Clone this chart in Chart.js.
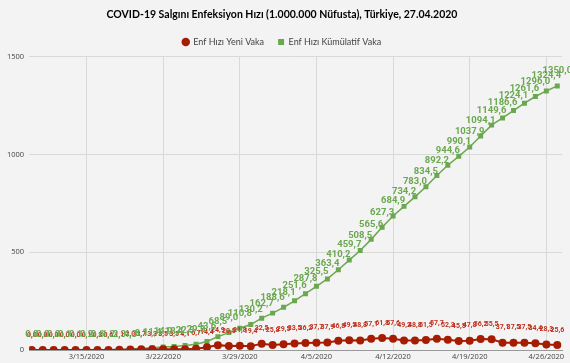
<!DOCTYPE html>
<html>
<head>
<meta charset="utf-8">
<script src="https://cdn.jsdelivr.net/npm/chart.js@4.4.0/dist/chart.umd.min.js"></script>
<style>
  html, body { margin: 0; padding: 0; background: #f3f3f3; }
  #wrap { width: 570px; height: 363px; }
</style>
</head>
<body>
<div id="wrap"><canvas id="c"></canvas></div>
<script>
// dates of each point
const dates = [
  "3/10/2020","3/11/2020","3/12/2020","3/13/2020","3/14/2020","3/15/2020","3/16/2020",
  "3/17/2020","3/18/2020","3/19/2020","3/20/2020","3/21/2020","3/22/2020","3/23/2020",
  "3/24/2020","3/25/2020","3/26/2020","3/27/2020","3/28/2020","3/29/2020","3/30/2020",
  "3/31/2020","4/1/2020","4/2/2020","4/3/2020","4/4/2020","4/5/2020","4/6/2020",
  "4/7/2020","4/8/2020","4/9/2020","4/10/2020","4/11/2020","4/12/2020","4/13/2020",
  "4/14/2020","4/15/2020","4/16/2020","4/17/2020","4/18/2020","4/19/2020","4/20/2020",
  "4/21/2020","4/22/2020","4/23/2020","4/24/2020","4/25/2020","4/26/2020","4/27/2020"
];

// Enf Hızı Yeni Vaka (per 1M)
const yeniVaka = [
  0.0, 0.0, 0.0, 0.0, 0.0, 0.1, 0.3, 0.6, 1.1, 2.0, 3.7, 3.3, 3.5, 3.5, 4.1, 6.7,
  14.4, 24.9, 20.5, 21.8, 19.4, 32.5,
  25.8, 29.5, 33.5, 36.2, 37.7, 37.9, 46.8, 49.5, 48.8, 57.1, 61.8, 57.6, 49.2,
  48.8, 51.5, 57.7, 52.3, 45.5, 47.8, 56.2, 55.5, 37.1, 37.5, 37.5, 34.4, 28.3, 25.6
];

// Enf Hızı Kümülatif Vaka (per 1M)
const kumulatifVaka = [
  0.0, 0.0, 0.0, 0.1, 0.1, 0.2, 0.6, 1.2, 2.3, 4.3, 8.1, 11.4, 14.9, 18.4, 22.5,
  29.3, 43.6, 68.5, 89.0, 110.8, 130.2, 162.7,
  188.6, 218.1, 251.6, 287.8, 325.5, 363.4, 410.2, 459.7, 508.5, 565.6, 627.3,
  684.9, 734.2, 783.0, 834.5, 892.2, 944.6, 990.1, 1037.9, 1094.1, 1149.6, 1186.6,
  1224.1, 1261.6, 1296.0, 1324.4, 1350.0
];

// weekly x ticks (index into dates)
const xTickIdx = [5, 12, 19, 26, 33, 40, 47];
const yTicks = [0, 500, 1000, 1500];

const fmt = v => v.toFixed(1).replace('.', ',');

// draws the value above every point
const valueLabels = {
  id: 'valueLabels',
  afterDatasetsDraw(chart) {
    const ctx = chart.ctx;
    ctx.save();
    ctx.textAlign = 'center';
    ctx.textBaseline = 'middle';
    chart.data.datasets.forEach((ds, i) => {
      const meta = chart.getDatasetMeta(i);
      ctx.font = ds.labelFont;
      ctx.fillStyle = ds.labelColor;
      meta.data.forEach((pt, j) => {
        ctx.fillText(fmt(ds.data[j].y), pt.x, pt.y - ds.labelGap);
      });
    });
    ctx.restore();
  }
};

new Chart(document.getElementById('c'), {
  type: 'line',
  data: {
    datasets: [
      {
        label: 'Enf Hızı Yeni Vaka',
        data: yeniVaka.map((v, i) => ({ x: i, y: v })),
        borderColor: '#a61c00',
        backgroundColor: '#a61c00',
        borderWidth: 2,
        pointStyle: 'circle',
        pointRadius: 4,
        pointHoverRadius: 4,
        pointBorderWidth: 0,
        labelFont: 'bold 7px Roboto',
        labelColor: '#c0301c',
        labelGap: 15
      },
      {
        label: 'Enf Hızı Kümülatif Vaka',
        data: kumulatifVaka.map((v, i) => ({ x: i, y: v })),
        borderColor: '#6aa84f',
        backgroundColor: '#6aa84f',
        borderWidth: 1.5,
        pointStyle: 'rect',
        pointRadius: 3.5,
        pointHoverRadius: 3.5,
        pointBorderWidth: 0,
        labelFont: 'bold 9.5px Roboto',
        labelColor: '#6aa84f',
        labelGap: 15
      }
    ]
  },
  options: {
    responsive: true,
    maintainAspectRatio: false,
    animation: false,
    layout: { padding: { left: 2, right: 8, top: 0, bottom: 0 } },
    plugins: {
      title: {
        display: true,
        text: 'COVID-19 Salgını Enfeksiyon Hızı (1.000.000 Nüfusta), Türkiye, 27.04.2020',
        color: '#000',
        font: { family: 'Lato', size: 10.5, weight: 'bold' },
        padding: { top: 8, bottom: 3 }
      },
      legend: {
        display: true,
        labels: {
          usePointStyle: true,
          boxHeight: 6,
          boxWidth: 6,
          color: '#444',
          padding: 14,
          font: { family: 'Lato', size: 9 }
        }
      },
      tooltip: { enabled: false }
    },
    scales: {
      x: {
        type: 'linear',
        min: -0.24,
        max: 48.43,
        afterBuildTicks: axis => { axis.ticks = xTickIdx.map(v => ({ value: v })); },
        ticks: {
          autoSkip: false,
          maxRotation: 0,
          color: '#444',
          padding: 2,
          font: { family: 'Open Sans', size: 7.5 },
          callback: v => dates[v]
        },
        grid: { color: '#d9d9d9', drawTicks: false },
        border: { color: '#999', width: 1 }
      },
      y: {
        min: 0,
        max: 1500,
        afterBuildTicks: axis => { axis.ticks = yTicks.map(v => ({ value: v })); },
        ticks: {
          color: '#444',
          padding: 5,
          font: { family: 'Open Sans', size: 7.5 },
          callback: v => String(v)
        },
        grid: { color: '#d9d9d9', drawTicks: false },
        border: { display: false }
      }
    }
  },
  plugins: [valueLabels]
});
</script>
</body>
</html>
